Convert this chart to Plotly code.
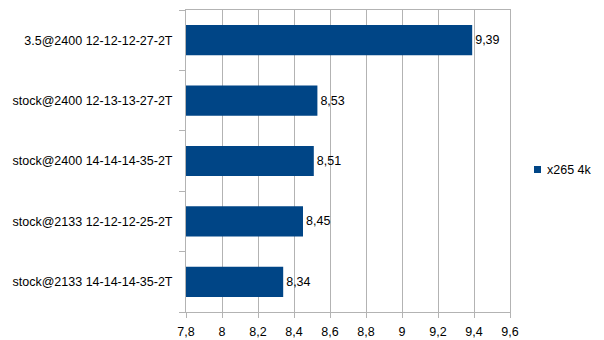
import plotly.graph_objects as go

# Benchmark results (top to bottom as listed)
configs = [
    "3.5@2400 12-12-12-27-2T",
    "stock@2400 12-13-13-27-2T",
    "stock@2400 14-14-14-35-2T",
    "stock@2133 12-12-12-25-2T",
    "stock@2133 14-14-14-35-2T",
]
scores = [9.39, 8.53, 8.51, 8.45, 8.34]
series_name = "x265 4k"

bar_color = "#004586"
grid_color = "#b3b3b3"
font_family = "Liberation Sans, Arial, sans-serif"
fs = 12.5

fig = go.Figure()
fig.add_trace(go.Bar(
    y=configs,
    x=scores,
    orientation="h",
    width=0.5,
    marker=dict(color=bar_color, line=dict(width=0)),
    texttemplate="%{x:.2f}",
    textposition="outside",
    textfont=dict(color="#000000", size=fs, family=font_family),
    cliponaxis=False,
    showlegend=False,
    name=series_name,
))

# Legend: small colour key plus series name to the right of the plot
fig.add_shape(
    type="rect", xref="paper", yref="paper",
    x0=(534 - 186) / 324, x1=(541 - 186) / 324,
    y0=(312 - 173) / 302, y1=(312 - 166) / 302,
    fillcolor=bar_color, line=dict(width=0),
)
fig.add_annotation(
    text=series_name, xref="paper", yref="paper",
    x=(545 - 186) / 324, y=(312 - 169.5) / 302, xanchor="left", yanchor="middle",
    showarrow=False, font=dict(size=fs, family=font_family, color="#000000"),
)

fig.update_layout(
    width=604, height=340,
    margin=dict(l=186, r=94, t=10, b=28, autoexpand=False),
    plot_bgcolor="white", paper_bgcolor="white",
    separators=", ",
    showlegend=False,
    font=dict(family=font_family, size=fs, color="#000000"),
    xaxis=dict(
        range=[7.8, 9.6], dtick=0.2, tick0=7.8,
        automargin=False,
        showgrid=True, gridcolor=grid_color, gridwidth=1,
        showline=True, linecolor=grid_color, linewidth=1, mirror=True,
        ticks="outside", ticklen=5, tickcolor=grid_color,
        ticklabelstandoff=3,
        zeroline=False, tickfont=dict(size=fs),
    ),
    yaxis=dict(
        categoryorder="array", categoryarray=configs[::-1],
        automargin=False,
        showline=True, linecolor=grid_color, linewidth=1, mirror=True,
        ticks="outside", ticklen=6, tickcolor=grid_color,
        tickson="boundaries", showgrid=False,
        ticklabelstandoff=10,
        tickfont=dict(size=fs),
    ),
)

fig.write_html("out.html")
